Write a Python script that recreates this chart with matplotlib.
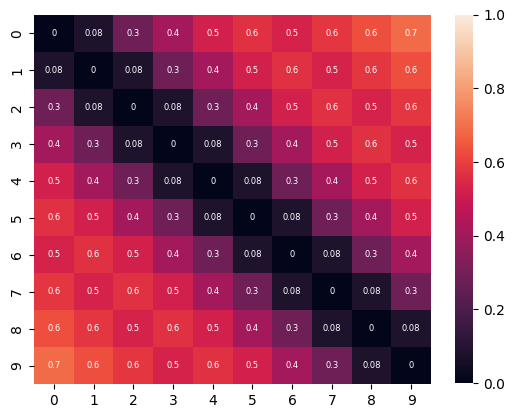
import matplotlib
matplotlib.use('Agg')
import matplotlib.pyplot as plt
import numpy as np
import seaborn as sns

labels = [0, 1, 2, 3, 4, 5, 6, 7, 8, 9]

# distance-like matrix, values
dist = [
    [0.00, 0.08, 0.28, 0.41, 0.52, 0.57, 0.53, 0.58, 0.63, 0.69],
    [0.08, 0.00, 0.08, 0.28, 0.41, 0.52, 0.57, 0.53, 0.58, 0.63],
    [0.28, 0.08, 0.00, 0.08, 0.28, 0.41, 0.52, 0.57, 0.53, 0.58],
    [0.41, 0.28, 0.08, 0.00, 0.08, 0.28, 0.41, 0.52, 0.57, 0.53],
    [0.52, 0.41, 0.28, 0.08, 0.00, 0.08, 0.28, 0.41, 0.52, 0.57],
    [0.57, 0.52, 0.41, 0.28, 0.08, 0.00, 0.08, 0.28, 0.41, 0.52],
    [0.53, 0.57, 0.52, 0.41, 0.28, 0.08, 0.00, 0.08, 0.28, 0.41],
    [0.58, 0.53, 0.57, 0.52, 0.41, 0.28, 0.08, 0.00, 0.08, 0.28],
    [0.63, 0.58, 0.53, 0.57, 0.52, 0.41, 0.28, 0.08, 0.00, 0.08],
    [0.69, 0.63, 0.58, 0.53, 0.57, 0.52, 0.41, 0.28, 0.08, 0.00],
]

fig = plt.figure(figsize=(5.15, 4.18), dpi=100)
ax = fig.add_axes([0.066, 0.0813, 0.771, 0.883])
cax = fig.add_axes([0.8835, 0.0837, 0.0356, 0.881])

sns.heatmap(np.array(dist), vmin=0, vmax=1, annot=True, fmt='.1g',
            annot_kws={'size': 6}, xticklabels=labels, yticklabels=labels,
            ax=ax, cbar_ax=cax)

plt.savefig('out.png', dpi=100)
